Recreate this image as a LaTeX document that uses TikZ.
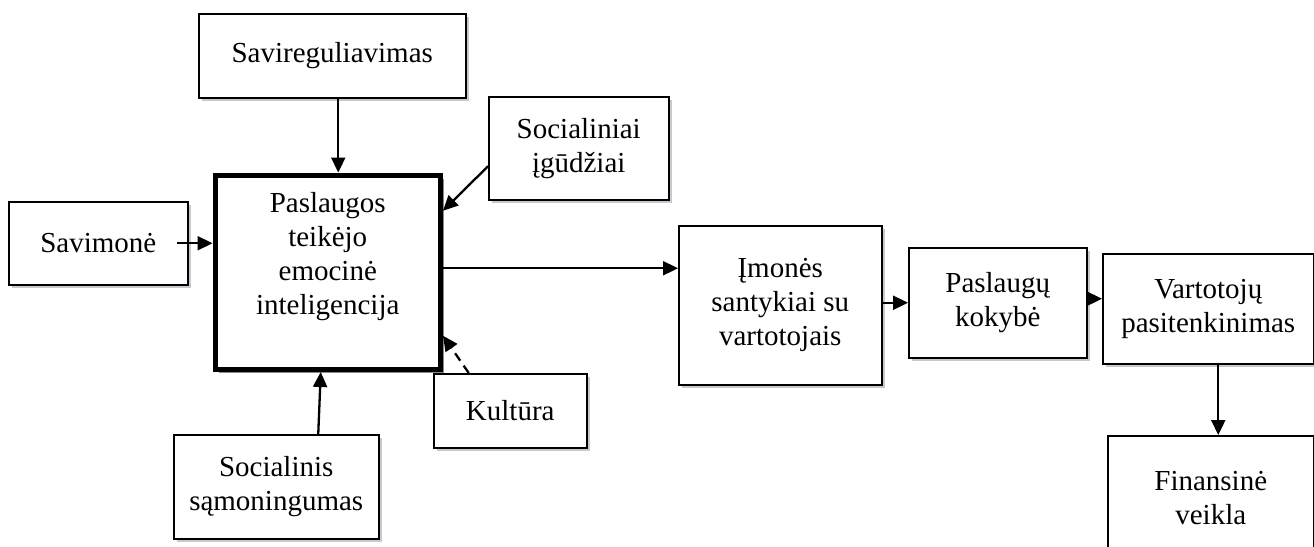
\documentclass[tikz,border=0pt]{standalone}
\usepackage{fontspec}
\setmainfont{Liberation Serif}
\usetikzlibrary{arrows.meta,shadows,positioning}
\definecolor{shadowgray}{HTML}{C8C8D0}
\definecolor{shadowmauve}{HTML}{8E8699}
\tikzset{
  box/.style={draw, line width=1.5pt, fill=white, anchor=north west,
    align=center, inner sep=0pt,
    general shadow={fill=shadowgray, shadow xshift=3pt, shadow yshift=-3pt}},
  mainbox/.style={draw, line width=5.5pt, fill=white, anchor=north west,
    inner sep=0pt,
    general shadow={fill=shadowmauve, shadow xshift=4pt, shadow yshift=-4pt}},
  arr/.style={line width=2.3pt, -{Triangle[length=15pt,width=14pt]}},
  dasharr/.style={arr, dash pattern=on 9pt off 6pt},
}
\begin{document}
\begin{tikzpicture}[x=1pt, y=-1pt, font=\fontsize{29}{34}\selectfont]
\useasboundingbox (0,0) rectangle (1314,546);

% input factors
\node[box, minimum width=267pt, minimum height=84pt] (sav) at (198,13) {Savireguliavimas};
\node[box, minimum width=180pt, minimum height=103pt] (soc) at (488,96) {Socialiniai\\įgūdžiai};
\node[box, minimum width=179pt, minimum height=83pt] (savim) at (8,201) {Savimonė};
\node[box, minimum width=153pt, minimum height=74pt] (kult) at (433,373) {Kultūra};
\node[box, minimum width=205pt, minimum height=104pt] (socs) at (173,434) {Socialinis\\sąmoningumas};

% central construct
\node[mainbox, minimum width=225pt, minimum height=194pt] (main) at (212.5,172.5) {};
\node[align=center, anchor=north] (maintext) at ([yshift=-16pt]main.north)
  {Paslaugos\\teikėjo\\emocinė\\inteligencija};

% outcome chain
\node[box, minimum width=203pt, minimum height=159pt] (imon) at (678,225) {Įmonės\\santykiai su\\vartotojais};
\node[box, minimum width=178pt, minimum height=110pt] (pask) at (908,247) {Paslaugų\\kokybė};
\node[box, minimum width=211pt, minimum height=110pt] (vart) at (1102,253) {Vartotojų\\pasitenkinimas};
\node[box, minimum width=206pt, minimum height=125pt] (fin) at (1107,435) {Finansinė\\veikla};

% influences on emotional intelligence
\draw[arr] ([xshift=6pt]sav.south) -- ([xshift=6pt]sav.south |- main.north);
\draw[arr] ([yshift=-18pt]soc.west) -- ([yshift=61.5pt]main.east);
\draw[arr] ([xshift=-12pt]savim.east) -- (savim.east -| main.west);
\draw[arr] ([xshift=42pt]socs.north) -- ([xshift=-7pt]main.south);
\draw[dasharr] ([xshift=-41.5pt]kult.north) -- ([yshift=-63.5pt]main.east);

% chain of effects
\draw[arr] ([yshift=4pt]main.east) -- ([yshift=4pt]main.east -| imon.west);
\draw[arr] (pask.west -| imon.east) -- (pask.west);
\draw[arr] ([yshift=4pt]pask.east) -- ([yshift=4pt]pask.east -| vart.west);
\draw[arr] ([xshift=10pt]vart.south) -- ([xshift=10pt]vart.south |- fin.north);
\end{tikzpicture}
\end{document}
